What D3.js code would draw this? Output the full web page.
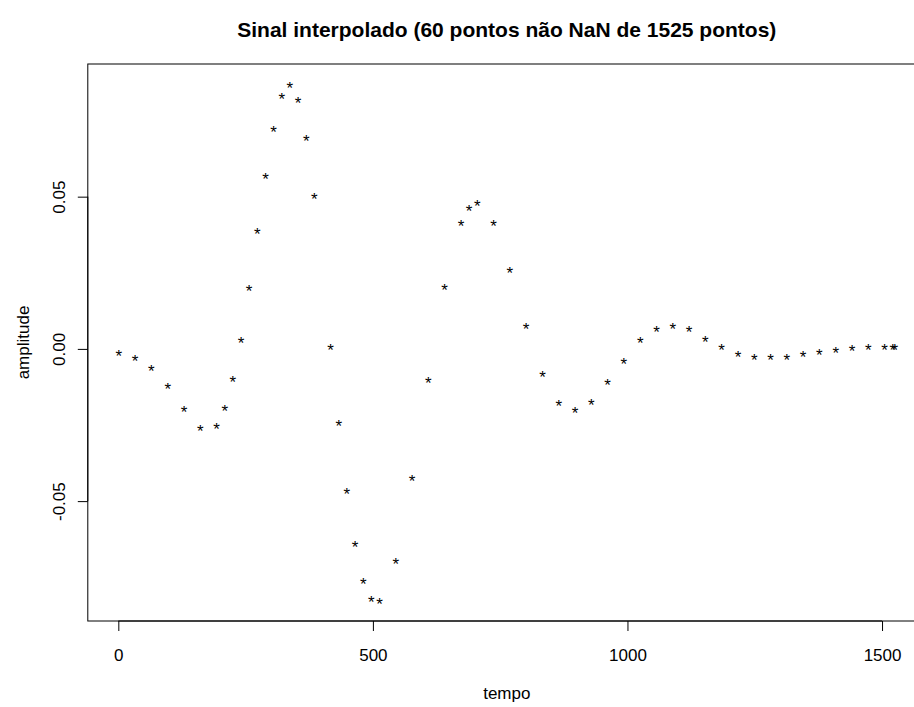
<!DOCTYPE html>
<html>
<head>
<meta charset="utf-8">
<script src="https://cdn.jsdelivr.net/npm/d3@7"></script>
<style>
  html, body { margin: 0; padding: 0; background: #fff; }
  svg { display: block; }
  text { font-family: "Liberation Sans", Arial, Helvetica, sans-serif; fill: #000; }
</style>
</head>
<body>
<svg id="chart" width="914" height="707"></svg>
<script>
// ---- data ----
const titleText = "Sinal interpolado (60 pontos não NaN de 1525 pontos)";
const xLabel = "tempo";
const yLabel = "amplitude";
const nTotal = 1525;
const tempo = [1, 33, 65, 97, 129, 161, 193, 209, 225, 241, 257, 273, 289, 305, 321, 337, 353, 369, 385,
  417, 433, 449, 465, 481, 497, 513, 545, 577, 609, 641, 673, 689, 705, 737, 769, 801, 833, 865, 897,
  929, 961, 993, 1025, 1057, 1089, 1121, 1153, 1185, 1217, 1249, 1281, 1313, 1345, 1377, 1409, 1441,
  1473, 1505, 1521, 1525];
const amplitude = [-0.0010, -0.0029, -0.0062, -0.0120, -0.0196, -0.0259, -0.0250, -0.0193, -0.0097,
  0.0033, 0.0201, 0.0388, 0.0571, 0.0726, 0.0832, 0.0868, 0.0821, 0.0696, 0.0506,
  0.0010, -0.0242, -0.0463, -0.0639, -0.0761, -0.0820, -0.0826, -0.0693, -0.0423, -0.0099, 0.0204,
  0.0415, 0.0466, 0.0483, 0.0417, 0.0263, 0.0079, -0.0079, -0.0174, -0.0200,
  -0.0171, -0.0108, -0.0036, 0.0030, 0.0066, 0.0079, 0.0066, 0.0036, 0.0010, -0.0013, -0.0023,
  -0.0026, -0.0023, -0.0016, -0.0009, -0.0002, 0.0004, 0.0007, 0.0010, 0.0010, 0.0010];
const xTicks = [0, 500, 1000, 1500];
const xTickLabels = ["0", "500", "1000", "1500"];
const yTicks = [-0.05, 0, 0.05];
const yTickLabels = ["-0.05", "0.00", "0.05"];

// ---- layout ----
const pLeft = 87.8, pRight = 925.8, pTop = 64, pBottom = 621;
const fs = 17;

const svg = d3.select("#chart");

// R-style 4% extension
const xr = [1, nTotal];
const xe = (xr[1] - xr[0]) * 0.04;
const x = d3.scaleLinear().domain([xr[0] - xe, xr[1] + xe]).range([pLeft, pRight]);
const yr = d3.extent(amplitude);
const ye = (yr[1] - yr[0]) * 0.04;
const y = d3.scaleLinear().domain([yr[0] - ye, yr[1] + ye]).range([pBottom, pTop]);

// title
svg.append("text")
  .attr("x", (pLeft + pRight) / 2)
  .attr("y", 37)
  .attr("text-anchor", "middle")
  .style("font-size", "21px")
  .style("font-weight", "bold")
  .text(titleText);

// points as "*" characters
svg.append("g").selectAll("text")
  .data(tempo.map((t, i) => [t, amplitude[i]]))
  .join("text")
  .attr("x", d => x(d[0]))
  .attr("y", d => y(d[1]) + 0.57 * fs)
  .attr("text-anchor", "middle")
  .style("font-size", fs + "px")
  .text("*");

// box
svg.append("rect")
  .attr("x", pLeft).attr("y", pTop)
  .attr("width", pRight - pLeft).attr("height", pBottom - pTop)
  .attr("fill", "none").attr("stroke", "#000").attr("stroke-width", 1);

// x axis
const xAxis = d3.axisBottom(x).tickValues(xTicks).tickSize(10).tickSizeOuter(0)
  .tickFormat((d, i) => xTickLabels[i]);
const gx = svg.append("g").attr("transform", `translate(0,${pBottom})`).call(xAxis);
gx.select(".domain").remove();
gx.append("line")
  .attr("x1", x(xTicks[0])).attr("x2", x(xTicks[xTicks.length - 1]))
  .attr("y1", 0).attr("y2", 0).attr("stroke", "#000");
gx.selectAll(".tick line").attr("stroke", "#000");
gx.selectAll(".tick text")
  .attr("y", 39.5).attr("dy", 0)
  .style("font-size", fs + "px")
  .style("font-family", "Liberation Sans, Arial, sans-serif")
  .attr("fill", "#000");

// y axis
const yAxis = d3.axisLeft(y).tickValues(yTicks).tickSize(10).tickSizeOuter(0)
  .tickFormat((d, i) => yTickLabels[i]);
const gy = svg.append("g").attr("transform", `translate(${pLeft},0)`).call(yAxis);
gy.select(".domain").remove();
gy.append("line")
  .attr("y1", y(yTicks[0])).attr("y2", y(yTicks[yTicks.length - 1]))
  .attr("x1", 0).attr("x2", 0).attr("stroke", "#000");
gy.selectAll(".tick line").attr("stroke", "#000");
gy.selectAll(".tick text")
  .attr("transform", "rotate(-90)")
  .attr("x", 0).attr("y", -22.8).attr("dy", 0)
  .attr("text-anchor", "middle")
  .style("font-size", fs + "px")
  .style("font-family", "Liberation Sans, Arial, sans-serif")
  .attr("fill", "#000");

// axis titles
svg.append("text")
  .attr("x", (pLeft + pRight) / 2)
  .attr("y", 699)
  .attr("text-anchor", "middle")
  .style("font-size", fs + "px")
  .text(xLabel);

svg.append("text")
  .attr("transform", `translate(29,${(pTop + pBottom) / 2}) rotate(-90)`)
  .attr("text-anchor", "middle")
  .style("font-size", fs + "px")
  .text(yLabel);
</script>
</body>
</html>
